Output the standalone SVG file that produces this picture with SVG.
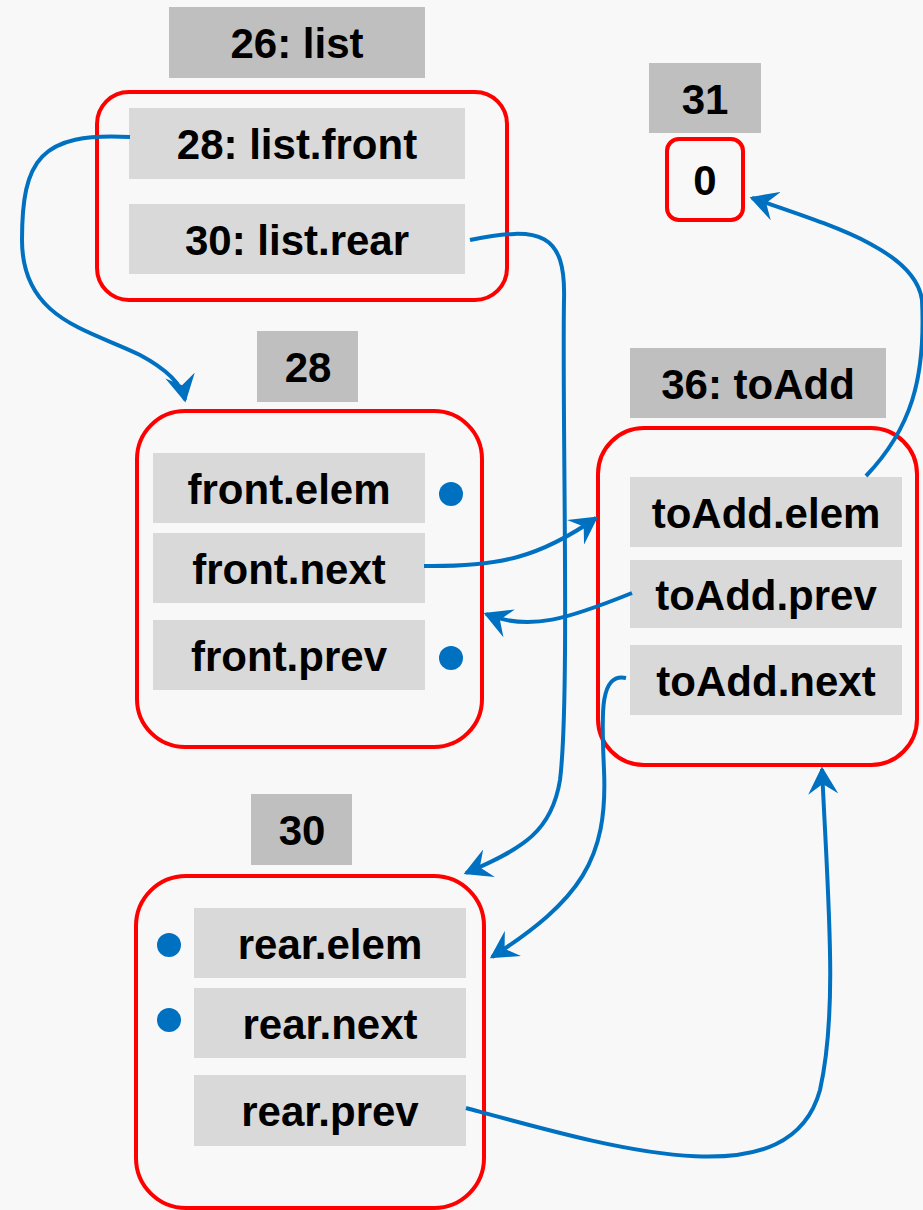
<svg xmlns="http://www.w3.org/2000/svg" width="923" height="1210" viewBox="0 0 923 1210">
<style>
.bg{fill:#f8f8f8}
.lbl{fill:#bfbfbf}
.fld{fill:#d9d9d9}
.box{fill:none;stroke:#ff0000;stroke-width:4}
.t{font-family:"Liberation Sans",Arial,sans-serif;font-weight:bold;font-size:42px;fill:#000;text-anchor:middle}
.dot{fill:#0070c0}
.c{fill:none;stroke:#0070c0;stroke-width:4;marker-end:url(#ah)}
</style>
<defs>
<marker id="ah" viewBox="0 0 12 12" refX="10" refY="6" markerWidth="7.5" markerHeight="7.5" markerUnits="strokeWidth" orient="auto">
<path d="M0,0 L11,6 L0,12 L4,6 z" fill="#0070c0"/>
</marker>
</defs>
<rect class="bg" x="0" y="0" width="923" height="1210"/>

<g id="list">
<rect class="lbl" x="169" y="7" width="256" height="71"/>
<text class="t" x="297" y="58">26: list</text>
<rect class="box" x="97" y="92" width="410" height="208" rx="32"/>
<rect class="fld" x="129" y="108" width="336" height="71"/>
<text class="t" x="297" y="159">28: list.front</text>
<rect class="fld" x="129" y="204" width="336" height="70"/>
<text class="t" x="297" y="255">30: list.rear</text>
</g>

<g id="n31">
<rect class="lbl" x="649" y="63" width="112" height="70"/>
<text class="t" x="705" y="114">31</text>
<rect class="box" x="667" y="139" width="76" height="81" rx="12"/>
<text class="t" x="705" y="195">0</text>
</g>

<g id="n28">
<rect class="lbl" x="257" y="331" width="101" height="71"/>
<text class="t" x="308" y="382">28</text>
<rect class="box" x="137" y="411" width="345" height="336" rx="48"/>
<rect class="fld" x="153" y="453" width="272" height="70"/>
<text class="t" x="289" y="504">front.elem</text>
<rect class="fld" x="153" y="533" width="272" height="70"/>
<text class="t" x="289" y="584">front.next</text>
<rect class="fld" x="153" y="620" width="272" height="70"/>
<text class="t" x="289" y="671">front.prev</text>
<circle class="dot" cx="451" cy="494" r="12"/>
<circle class="dot" cx="451" cy="658" r="12"/>
</g>

<g id="n36">
<rect class="lbl" x="630" y="348" width="256" height="70"/>
<text class="t" x="758" y="399">36: toAdd</text>
<rect class="box" x="598" y="428" width="319" height="337" rx="46"/>
<rect class="fld" x="630" y="477" width="272" height="70"/>
<text class="t" x="766" y="528">toAdd.elem</text>
<rect class="fld" x="630" y="560" width="272" height="68"/>
<text class="t" x="766" y="610">toAdd.prev</text>
<rect class="fld" x="630" y="645" width="272" height="70"/>
<text class="t" x="766" y="696">toAdd.next</text>
</g>

<g id="n30">
<rect class="lbl" x="251" y="794" width="101" height="71"/>
<text class="t" x="302" y="845">30</text>
<rect class="box" x="136" y="876" width="348" height="332" rx="50"/>
<rect class="fld" x="194" y="908" width="272" height="70"/>
<text class="t" x="330" y="959">rear.elem</text>
<rect class="fld" x="194" y="988" width="272" height="70"/>
<text class="t" x="330" y="1039">rear.next</text>
<rect class="fld" x="194" y="1075" width="272" height="71"/>
<text class="t" x="330" y="1126">rear.prev</text>
<circle class="dot" cx="169" cy="945" r="12"/>
<circle class="dot" cx="169" cy="1020" r="12"/>
</g>

<g id="connectors">
<path class="c" d="M130,137 C 40,132 22,160 22,240 C 22,320 90,330 140,355 C 168,370 182,385 185,400"/>
<path class="c" d="M470,240 C 540,226 566,232 564,300 C 562,420 570,700 560,780 C 552,830 525,848 466,873"/>
<path class="c" d="M424,566 C 500,567 540,557 596,518"/>
<path class="c" d="M632,593 C 570,618 530,632 486,614"/>
<path class="c" d="M626,678 C 598,672 602,720 604,770 C 608,860 580,900 492,957"/>
<path class="c" d="M466,1108 C 620,1150 790,1200 820,1090 C 838,1010 828,900 822,769"/>
<path class="c" d="M866,476 C 910,430 926,380 922,300 C 915,250 830,225 752,198"/>
</g>
</svg>
